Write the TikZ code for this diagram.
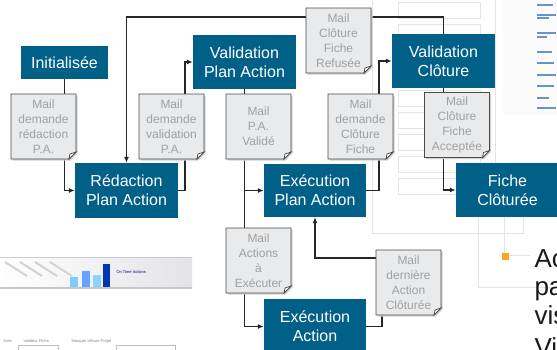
\documentclass[tikz,border=0pt]{standalone}
\usepackage{fontspec}
\setmainfont{Liberation Sans}
\usetikzlibrary{arrows.meta,calc}
\definecolor{boxblue}{HTML}{006087}
\definecolor{docfill}{HTML}{E9EAEC}
\definecolor{docline}{HTML}{4A4A4A}
\definecolor{doctext}{HTML}{A0A0A0}
\definecolor{linecol}{HTML}{262626}
\definecolor{bgline}{HTML}{E2E4E6}
\definecolor{bullet}{HTML}{F5A623}
\definecolor{tinyblue}{HTML}{6A92C8}
\newcommand\docnode[3]{%
  \fill[gray!35] ($(#2)+(-31,-31)$) -- ($(#2)+(34,-31)$) -- ($(#2)+(34,27)$) -- ($(#2)+(27,34)$) -- ($(#2)+(-31,34)$) -- cycle;
  \filldraw[docshape] ($(#2)+(-32.5,-32.5)$) -- ($(#2)+(32.5,-32.5)$) -- ($(#2)+(32.5,25.5)$) -- ($(#2)+(25.5,32.5)$) -- ($(#2)+(-32.5,32.5)$) -- cycle;
  \filldraw[foldshape] ($(#2)+(32.5,25.5)$) -- ($(#2)+(26.5,27.5)$) -- ($(#2)+(25.5,32.5)$) -- cycle;
  \node[doc] (#1) at (#2) {#3};}
\begin{document}
\begin{tikzpicture}[x=1pt,y=-1pt,
  bluebox/.style={fill=boxblue, text=white, align=center, inner sep=0pt, font=\fontsize{16}{19}\selectfont},
  doc/.style={minimum width=65pt, minimum height=65pt, inner sep=0pt, align=center, text=doctext, font=\fontsize{12}{15}\selectfont},
  docshape/.style={fill=docfill, draw=docline, line width=0.9pt},
  foldshape/.style={fill=white!85!docfill, draw=docline, line width=0.7pt},
  conn/.style={draw=linecol, line width=1.6pt, -{Latex[length=6pt,width=5pt]}},
  bg/.style={draw=bgline, line width=0.8pt}]
\useasboundingbox (0,0) rectangle (557,349);
\clip (0,0) rectangle (557,349);

% ---------- background screenshot fragments ----------
\foreach \yy in {2,24,46,68,90,112,134,156,178}
  \draw[bg] (398,\yy) rectangle (480,\yy+16);
\draw[bg] (372,0) -- (372,233) -- (523,233) -- (523,217);
\draw[bg] (495,0) -- (495,217);
\draw[bg] (478,217) -- (478,287) -- (557,287);
\draw[bg] (504,217) -- (504,255) -- (530,255);
\fill[gray!3] (503,0) rectangle (557,115);
\foreach \yy/\ll in {5/16,15/19,18/12,33/19,37/10,52/15,63/17,75/19,86/17,98/12,108/19}
  \draw[tinyblue, line width=1.1pt] (537,\yy) -- ++(\ll,0);

% bottom-left screenshot
\shade[left color=white, right color=blue!8!gray!20] (0,257) rectangle (192,287);
\draw[gray!40, line width=0.6pt] (0,257) -- (192,257);
\foreach \xx in {5,20,35,50} \draw[gray!35, line width=2pt] (\xx,262) -- (\xx+22,276);
\fill[blue!40!cyan!50] (70,277) rectangle (78,287);
\fill[blue!60!cyan!60] (82,271) rectangle (90,287);
\fill[blue!40!cyan!45] (93,275) rectangle (101,287);
\fill[blue!70!cyan!70!black] (103,264) rectangle (110,287);
\node[font=\fontsize{4}{5}\selectfont, text=blue!50!black, anchor=west] (ota) at (113,272) {On Time Actions};
\draw[gray!45, line width=1.5pt] (0,288) -- (192,288);
\node[font=\fontsize{4}{5}\selectfont, text=gray, anchor=west] (lb1) at (0,341) {tions};
\node[font=\fontsize{4}{5}\selectfont, text=gray, anchor=west] (lb2) at (20,341) {Valideur Fiche};
\node[font=\fontsize{4}{5}\selectfont, text=gray, anchor=west] (lb3) at (68,341) {Marquer clôture Projet};
\draw[gray!50, line width=0.6pt] (18,345) rectangle (58,356);
\draw[gray!50, line width=0.6pt] (116,345) rectangle (175,356);

% right bullet text
\fill[bullet] (502,253) rectangle (509,260);
\node[font=\fontsize{26}{29}\selectfont, text=black!90, anchor=base west] (t1) at (531,267) {Ac};
\node[font=\fontsize{26}{29}\selectfont, text=black!90, anchor=base west] (t2) at (531,295) {pa};
\node[font=\fontsize{26}{29}\selectfont, text=black!90, anchor=base west] (t3) at (531,324) {vis};
\node[font=\fontsize{26}{29}\selectfont, text=black!90, anchor=base west] (t4) at (531,356) {Vi};

% ---------- main nodes ----------
\node[bluebox, minimum width=87pt, minimum height=33pt] (init) at (64.5,62.5) {Initialisée};
\node[bluebox, minimum width=103pt, minimum height=54pt] (vpa) at (244.5,62) {Validation\\Plan Action};
\node[bluebox, minimum width=103pt, minimum height=55pt] (red) at (126.5,190.5) {Rédaction\\Plan Action};
\node[bluebox, minimum width=103pt, minimum height=54pt] (vc) at (443.5,61) {Validation\\Clôture};
\node[bluebox, minimum width=102pt, minimum height=53pt] (epa) at (315,190.5) {Exécution\\Plan Action};
\node[bluebox, minimum width=103pt, minimum height=54pt] (fc) at (507.5,190) {Fiche\\Clôturée};
\node[bluebox, minimum width=102pt, minimum height=55pt] (ea) at (315,326.5) {Exécution\\Action};

% ---------- connectors ----------
\coordinate (k4) at (382,258);
\draw[conn] (init) |- (red);
\draw[conn] (red.east) -- ++(7,0) |- (vpa.west);
\draw[conn] (vpa) |- (ea);
\draw[conn] (vpa.south |- epa) -- (epa.west);
\draw[conn] (ea.east) -| (k4) -| (epa.south);
\draw[conn] (epa.east) -- ++(13,0) |- (vc.west);
\draw[conn] (vc) |- (fc);
\draw[conn] (vc.north) -- ++(0,-17) -| (red.north);

% ---------- documents ----------
\docnode{d1}{43.5,126.5}{Mail\\demande\\rédaction\\P.A.}
\docnode{d2}{171.5,126.5}{Mail\\demande\\validation\\P.A.}
\docnode{d3}{258.5,126.5}{Mail\\P.A.\\Validé}
\docnode{d4}{338.5,40.5}{Mail\\Clôture\\Fiche\\Refusée}
\docnode{d5}{360.5,126.5}{Mail\\demande\\Clôture\\Fiche}
\docnode{d6}{457,125}{Mail\\Clôture\\Fiche\\Acceptée}
\docnode{d7}{258.5,260.5}{Mail\\Actions\\à\\Exécuter}
\docnode{d8}{408.5,282.5}{Mail\\dernière\\Action\\Clôturée}
\end{tikzpicture}
\end{document}
